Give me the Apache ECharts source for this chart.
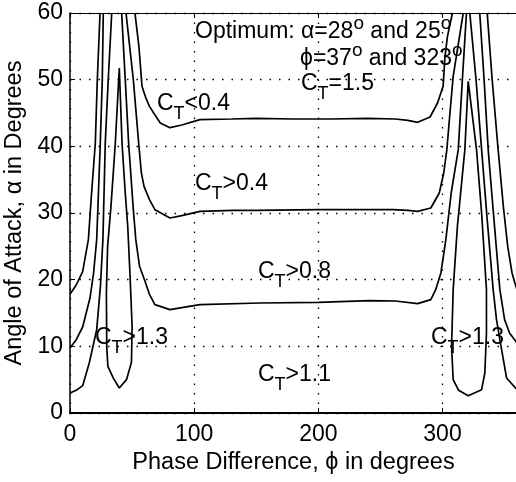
<!DOCTYPE html>
<html>
<head>
<meta charset="utf-8">
<script src="https://cdn.jsdelivr.net/npm/echarts@6/dist/echarts.min.js"></script>
<style>
html,body{margin:0;padding:0;background:#fff;}
#chart{width:516px;height:482px;}
</style>
</head>
<body>
<div id="chart"></div>
<script>
// x tick labels and y tick labels
var xTicks = [0, 100, 200, 300];
var yTicks = [0, 10, 20, 30, 40, 50, 60];

// Contour lines, [phase difference (deg), angle of attack (deg)]
var contour04 = [[52.3,60],[55.5,55],[58,49],[60.6,47.5],[64,46],[67.4,45],[72.7,43.5],[80.5,42.8],[90,43.2],[104.7,44],[130,44.1],[150,44.2],[180,44.1],[210,44.1],[240,44.2],[262,44.1],[272,43.9],[280,43.6],[290,44.4],[296,46.5],[300.5,49],[302,53.5],[304,56.5],[308,60]];
var contour08 = [[45.1,60],[51,50],[55.3,40.5],[57.5,36],[59.6,34],[64,32],[68.4,30.5],[80.5,29.25],[90,29.6],[104.7,30.25],[131.5,30.4],[150,30.4],[200,30.5],[230,30.5],[260,30.5],[272,30.4],[280,30.25],[290.6,30.75],[297.4,33],[301,36],[303.5,39.5],[306,45],[308.6,50.5],[316.7,60]];
var contour11 = [[41.6,60],[44.5,50],[47.2,40.5],[51,30.5],[53,26],[56,22],[60.4,19.75],[64,17.8],[68.4,16.25],[80.5,15.5],[90,15.8],[104.7,16.25],[153,16.5],[200,16.6],[241,16.85],[262,16.8],[280,16.4],[290.6,17],[294.5,18.5],[298.7,21],[302.7,26],[307,33],[312.7,39.5],[316,50],[319.3,60]];
var contour13Left = [[39.7,51.75],[36.5,40.5],[33,31],[30.3,25],[29.3,18],[29.6,10],[30.5,7],[35,5.2],[39.7,3.75],[45.5,5],[49.5,7.6],[50,13],[48.5,20],[46.5,28],[44.5,33],[41.9,40.5],[39.7,51.75]];
var contour13Right = [[320.7,49.75],[318,39.5],[312,28],[308.6,18.5],[307.3,10],[308.6,5],[313,3.4],[320.7,2.6],[331.5,3.5],[334.1,6],[335.4,12],[335.4,18.5],[331.5,30],[327.4,39.5],[320.7,49.75]];
var edgeLeftA = [[0,17.8],[5,19.2],[10.2,21.2],[14.8,26],[17,32],[20.4,40.5],[22,50],[24.2,60]];
var edgeLeftB = [[0,9.75],[5,11],[10.2,12.9],[16.1,17.25],[19,21],[21.5,26],[24.4,40.5],[26,50],[26.8,60]];
var edgeLeftC = [[0,3],[5,3.4],[10.2,4.1],[15.5,7.5],[21.5,12.5],[24.5,19],[26.5,26],[28.4,40.5],[30.8,50],[33.6,60]];
var edgeRightC = [[322,60],[327,50],[331.5,39.5],[336,29],[340.8,18.5],[343.5,14],[346.2,11],[351.6,5.25],[360,3.5]];
var edgeRightB = [[330,60],[333.5,50],[336.8,39.5],[341,30],[346.2,18.5],[350,14],[354,12],[360,10.5]];
var edgeRightA = [[336,60],[340,50],[344.8,39.5],[349,31],[352.5,25],[356,21],[358.3,19.5],[360,18.5]];

var chart = echarts.init(document.getElementById('chart'), null, {renderer:'canvas'});
var FONT = 'Liberation Sans, Arial, Helvetica, sans-serif';

function lineSeries(data){
  return {type:'line', data:data, showSymbol:false, symbol:'none', smooth:false,
    lineStyle:{color:'#000', width:1.7}, clip:true, silent:true, animation:false, z:3};
}

var subRich = {
  m:{fontSize:23, fontFamily:FONT, color:'#000', lineHeight:23, verticalAlign:'top'},
  s:{fontSize:18, fontFamily:FONT, color:'#000', lineHeight:18, padding:[13,0,0,0], verticalAlign:'top'}
};
var supRich = {
  m:{fontSize:23, fontFamily:FONT, color:'#000', lineHeight:23, padding:[6,0,0,0], verticalAlign:'top'},
  o:{fontSize:19, fontFamily:FONT, color:'#000', lineHeight:19, verticalAlign:'top'}
};
function ctLabel(x, y, rest){
  return {type:'text', x:x, y:y, z:10, silent:true,
    style:{text:'{m|C}{s|T}{m|' + rest + '}', rich:subRich, fill:'#000'}};
}

var option = {
  animation:false,
  backgroundColor:'#fff',
  grid:{left:70, top:13, width:447, height:400, show:false, containLabel:false, outerBoundsMode:'none'},
  xAxis:[{
    type:'value', min:0, max:360, interval:100, position:'bottom',
    name:'Phase Difference, ϕ in degrees', nameLocation:'middle', nameGap:37,
    nameTextStyle:{fontSize:23.5, fontFamily:FONT, color:'#000'},
    axisLine:{show:true, onZero:false, lineStyle:{color:'#000', width:2}},
    axisTick:{show:true, inside:true, length:5, lineStyle:{color:'#000', width:1}},
    axisLabel:{fontSize:23, fontFamily:FONT, color:'#000', margin:10, showMaxLabel:false,
      formatter:function(v){ return xTicks.indexOf(v) >= 0 ? String(v) : ''; }},
    splitLine:{show:true, lineStyle:{color:'#000', width:1.3, type:[1.5,8]}}
  },{
    type:'value', min:0, max:360, interval:100, position:'top',
    axisLine:{show:true, onZero:false, lineStyle:{color:'#000', width:1}},
    axisTick:{show:true, inside:true, length:5, lineStyle:{color:'#000', width:1}},
    axisLabel:{show:false}, splitLine:{show:false}
  }],
  yAxis:[{
    type:'value', min:0, max:60, interval:10,
    name:'Angle of Attack, α in Degrees', nameLocation:'middle', nameGap:36, nameRotate:90,
    nameTextStyle:{fontSize:23.5, fontFamily:FONT, color:'#000'},
    axisLine:{show:true, onZero:false, lineStyle:{color:'#000', width:1.5}},
    axisTick:{show:true, inside:true, length:5, lineStyle:{color:'#000', width:1}},
    axisLabel:{fontSize:23, fontFamily:FONT, color:'#000', margin:7,
      formatter:function(v){ return yTicks.indexOf(v) >= 0 ? String(v) : ''; }},
    splitLine:{show:true, lineStyle:{color:'#000', width:1.3, type:[1.5,8]}}
  }],
  series:[
    lineSeries(contour04), lineSeries(contour08), lineSeries(contour11),
    lineSeries(contour13Left), lineSeries(contour13Right),
    lineSeries(edgeLeftA), lineSeries(edgeLeftB), lineSeries(edgeLeftC),
    lineSeries(edgeRightA), lineSeries(edgeRightB), lineSeries(edgeRightC)
  ],
  graphic:[
    {type:'text', x:195, y:14, z:10, silent:true,
      style:{text:'{m|Optimum: α=28}{o|o}{m| and 25}{o|o}', rich:supRich}},
    {type:'text', x:300, y:41, z:10, silent:true,
      style:{text:'{m|ϕ=37}{o|o}{m| and 323}{o|o}', rich:supRich}},
    ctLabel(301, 72, '=1.5'),
    ctLabel(157, 92, '<0.4'),
    ctLabel(195, 172, '>0.4'),
    ctLabel(258, 260, '>0.8'),
    ctLabel(95, 326, '>1.3'),
    ctLabel(431, 326, '>1.3'),
    ctLabel(258, 363, '>1.1')
  ]
};
chart.setOption(option);
</script>
</body>
</html>
